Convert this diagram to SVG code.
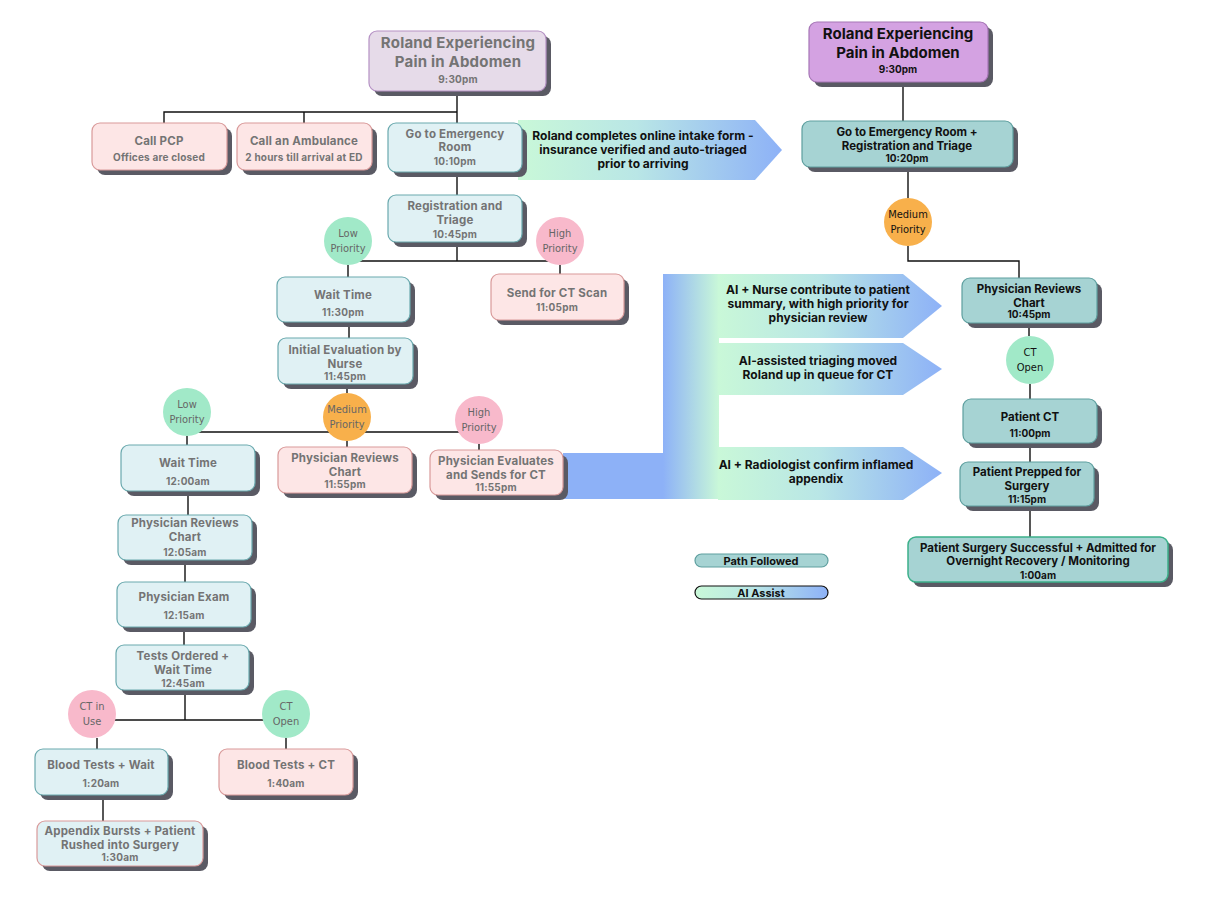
<svg xmlns="http://www.w3.org/2000/svg" width="1218" height="912" viewBox="0 0 1218 912">
<defs>
<linearGradient id="gR" x1="0" y1="0" x2="1" y2="0"><stop offset="0" stop-color="#c9f8d8"/><stop offset="0.45" stop-color="#b9e6e6"/><stop offset="1" stop-color="#8db1f7"/></linearGradient>
<linearGradient id="gL" x1="0" y1="0" x2="1" y2="0"><stop offset="0" stop-color="#8db1f7"/><stop offset="1" stop-color="#c9f8d8"/></linearGradient>
<style>
.sh{fill:#5a5a64}
.b{fill:#e0f1f4;stroke:#6aa9ae;stroke-width:1.2}
.p{fill:#fde6e6;stroke:#d99a9a;stroke-width:1.2}
.bp{fill:#e0f1f4;stroke:#d99a9a;stroke-width:1.2}
.pu{fill:#e6dbe9;stroke:#b591c4;stroke-width:1.2}
.pu2{fill:#d4a2e2;stroke:#a676b6;stroke-width:1.2}
.t{fill:#a6d3d3;stroke:#5e9f9f;stroke-width:1.2}
.tg{fill:#a6d3d3;stroke:#3cb08a;stroke-width:1.5}
text{font-family:Inter,"Liberation Sans",sans-serif;font-weight:700;text-anchor:middle}
.g{fill:#747474;letter-spacing:0.2px}
.k{fill:#111}
.f12{font-size:11.5px}
.fb{font-size:12px}
.f10{font-size:10px}
.f15{font-size:15px}
.c{font-family:"Liberation Sans Narrow","DejaVu Sans Condensed","Roboto",sans-serif;font-weight:400;font-size:11px;letter-spacing:0}
.cg{fill:#a1e9c8}.cp{fill:#f8b9cb}.co{fill:#f8b04b}
.cgt{fill:#666}
.ln{fill:none;stroke:#111;stroke-width:1.4}
</style>
</defs>
<rect width="1218" height="912" fill="#fff"/>

<g id="connectors">
<path class="ln" d="M457,91 V123 M164,123 V112 H457 M304,112 V123 M457,172 V195 M457,242 V261 M348,261 H560 M348,265 V277 M560,265 V274 M349,322 V338 M347,384 V393 M187,432 H479 M187,436 V445 M347,441 V447 M479,444 V450 M188,491 V515 M185,560 V582 M184,627 V645 M185,690 V720 M92,720 H286 M97,738 V749 M286,738 V749 M103,795 V821"/>
<path class="ln" d="M903,82 V121 M908,167 V198 M908,246 V261 H1019 V278 M1029,323 V336 M1030,384 V399 M1030,443 V462 M1030,506 V537"/>
</g>

<g id="ai-banners">
<polygon points="518,120 755,120 782,150 755,180 518,180" fill="url(#gR)"/>
<text class="k fb" x="643" y="140">Roland completes online intake form -</text>
<text class="k fb" x="643" y="154">insurance verified and auto-triaged</text>
<text class="k fb" x="643" y="168">prior to arriving</text>
<rect x="563" y="453" width="102" height="46" fill="#8db1f7"/>
<rect x="663" y="274" width="56" height="225" fill="url(#gL)"/>
<polygon points="718,274 903,274 942,306 903,338 718,338" fill="url(#gR)"/>
<polygon points="718,343 903,343 942,369 903,395 718,395" fill="url(#gR)"/>
<polygon points="718,447 903,447 942,473 903,500 718,500" fill="url(#gR)"/>
<text class="k fb" x="818" y="294">AI + Nurse contribute to patient</text>
<text class="k fb" x="818" y="308">summary, with high priority for</text>
<text class="k fb" x="818" y="322">physician review</text>
<text class="k fb" x="818" y="365">AI-assisted triaging moved</text>
<text class="k fb" x="818" y="379">Roland up in queue for CT</text>
<text class="k fb" x="816" y="469">AI + Radiologist confirm inflamed</text>
<text class="k fb" x="816" y="483">appendix</text>
</g>

<g id="n-title-left"><rect class="sh" x="374" y="36" width="177" height="60" rx="8"/><rect class="pu" x="369" y="31" width="177" height="60" rx="8"/>
<text class="g f15" x="458" y="48">Roland Experiencing</text><text class="g f15" x="458" y="67">Pain in Abdomen</text><text class="g f10" x="458" y="83">9:30pm</text></g>

<g id="n-call-pcp"><rect class="sh" x="97" y="128" width="135" height="47" rx="8"/><rect class="p" x="92" y="123" width="135" height="47" rx="8"/>
<text class="g f12" x="159" y="145">Call PCP</text><text class="g f10" x="159" y="161">Offices are closed</text></g>

<g id="n-ambulance"><rect class="sh" x="242" y="128" width="135" height="47" rx="8"/><rect class="p" x="237" y="123" width="135" height="47" rx="8"/>
<text class="g f12" x="304" y="145">Call an Ambulance</text><text class="g f10" x="304" y="161">2 hours till arrival at ED</text></g>

<g id="n-er"><rect class="sh" x="393" y="128" width="134" height="49" rx="8"/><rect class="b" x="388" y="123" width="134" height="49" rx="8"/>
<text class="g f12" x="455" y="138">Go to Emergency</text><text class="g f12" x="455" y="151">Room</text><text class="g f10" x="455" y="165">10:10pm</text></g>

<g id="n-registration"><rect class="sh" x="393" y="200" width="134" height="47" rx="8"/><rect class="b" x="388" y="195" width="134" height="47" rx="8"/>
<text class="g f12" x="455" y="210">Registration and</text><text class="g f12" x="455" y="224">Triage</text><text class="g f10" x="455" y="238">10:45pm</text></g>

<g id="c-low1"><circle class="cg" cx="348" cy="241" r="24"/><text class="c cgt" x="348" y="237">Low</text><text class="c cgt" x="348" y="252">Priority</text></g>
<g id="c-high1"><circle class="cp" cx="560" cy="241" r="24"/><text class="c cgt" x="560" y="237">High</text><text class="c cgt" x="560" y="252">Priority</text></g>

<g id="n-wait1"><rect class="sh" x="282" y="282" width="133" height="45" rx="8"/><rect class="b" x="277" y="277" width="133" height="45" rx="8"/>
<text class="g f12" x="343" y="299">Wait Time</text><text class="g f10" x="343" y="316">11:30pm</text></g>

<g id="n-sendct"><rect class="sh" x="496" y="279" width="133" height="46" rx="8"/><rect class="p" x="491" y="274" width="133" height="46" rx="8"/>
<text class="g f12" x="557" y="297">Send for CT Scan</text><text class="g f10" x="557" y="311">11:05pm</text></g>

<g id="n-initial"><rect class="sh" x="283" y="343" width="135" height="46" rx="8"/><rect class="b" x="278" y="338" width="135" height="46" rx="8"/>
<text class="g f12" x="345" y="354">Initial Evaluation by</text><text class="g f12" x="345" y="368">Nurse</text><text class="g f10" x="345" y="380">11:45pm</text></g>

<g id="c-low2"><circle class="cg" cx="187" cy="412" r="24"/><text class="c cgt" x="187" y="408">Low</text><text class="c cgt" x="187" y="423">Priority</text></g>
<g id="c-med2"><circle class="co" cx="347" cy="417" r="24"/><text class="c cgt" x="347" y="413">Medium</text><text class="c cgt" x="347" y="428">Priority</text></g>
<g id="c-high2"><circle class="cp" cx="479" cy="420" r="24"/><text class="c cgt" x="479" y="416">High</text><text class="c cgt" x="479" y="431">Priority</text></g>

<g id="n-wait2"><rect class="sh" x="126" y="450" width="134" height="46" rx="8"/><rect class="b" x="121" y="445" width="134" height="46" rx="8"/>
<text class="g f12" x="188" y="467">Wait Time</text><text class="g f10" x="188" y="485">12:00am</text></g>

<g id="n-reviews-pink"><rect class="sh" x="283" y="452" width="134" height="46" rx="8"/><rect class="p" x="278" y="447" width="134" height="46" rx="8"/>
<text class="g f12" x="345" y="462">Physician Reviews</text><text class="g f12" x="345" y="476">Chart</text><text class="g f10" x="345" y="488">11:55pm</text></g>

<g id="n-evaluates"><rect class="sh" x="435" y="455" width="133" height="45" rx="8"/><rect class="p" x="430" y="450" width="133" height="45" rx="8"/>
<text class="g f12" x="496" y="465">Physician Evaluates</text><text class="g f12" x="496" y="479">and Sends for CT</text><text class="g f10" x="496" y="491">11:55pm</text></g>

<g id="n-reviews2"><rect class="sh" x="123" y="520" width="134" height="45" rx="8"/><rect class="b" x="118" y="515" width="134" height="45" rx="8"/>
<text class="g f12" x="185" y="527">Physician Reviews</text><text class="g f12" x="185" y="541">Chart</text><text class="g f10" x="185" y="556">12:05am</text></g>

<g id="n-exam"><rect class="sh" x="122" y="587" width="134" height="45" rx="8"/><rect class="b" x="117" y="582" width="134" height="45" rx="8"/>
<text class="g f12" x="184" y="601">Physician Exam</text><text class="g f10" x="184" y="619">12:15am</text></g>

<g id="n-tests"><rect class="sh" x="121" y="650" width="133" height="45" rx="8"/><rect class="b" x="116" y="645" width="133" height="45" rx="8"/>
<text class="g f12" x="183" y="660">Tests Ordered +</text><text class="g f12" x="183" y="674">Wait Time</text><text class="g f10" x="183" y="687">12:45am</text></g>

<g id="c-ctuse"><circle class="cp" cx="92" cy="714" r="24"/><text class="c cgt" x="92" y="710">CT in</text><text class="c cgt" x="92" y="725">Use</text></g>
<g id="c-ctopen"><circle class="cg" cx="286" cy="714" r="24"/><text class="c cgt" x="286" y="710">CT</text><text class="c cgt" x="286" y="725">Open</text></g>

<g id="n-bloodwait"><rect class="sh" x="40" y="754" width="133" height="46" rx="8"/><rect class="b" x="35" y="749" width="133" height="46" rx="8"/>
<text class="g f12" x="101" y="769">Blood Tests + Wait</text><text class="g f10" x="101" y="787">1:20am</text></g>

<g id="n-bloodct"><rect class="sh" x="224" y="754" width="134" height="46" rx="8"/><rect class="p" x="219" y="749" width="134" height="46" rx="8"/>
<text class="g f12" x="286" y="769">Blood Tests + CT</text><text class="g f10" x="286" y="787">1:40am</text></g>

<g id="n-appendix"><rect class="sh" x="42" y="826" width="166" height="45" rx="8"/><rect class="bp" x="37" y="821" width="166" height="45" rx="8"/>
<text class="g f12" x="120" y="835">Appendix Bursts + Patient</text><text class="g f12" x="120" y="849">Rushed into Surgery</text><text class="g f10" x="120" y="861">1:30am</text></g>

<g id="n-title-right"><rect class="sh" x="814" y="27" width="179" height="60" rx="8"/><rect class="pu2" x="809" y="22" width="179" height="60" rx="8"/>
<text class="k f15" x="898" y="39">Roland Experiencing</text><text class="k f15" x="898" y="58">Pain in Abdomen</text><text class="k f10" x="898" y="73">9:30pm</text></g>

<g id="n-r-er"><rect class="sh" x="807" y="126" width="211" height="46" rx="8"/><rect class="t" x="802" y="121" width="211" height="46" rx="8"/>
<text class="k f12" x="907" y="136">Go to Emergency Room +</text><text class="k f12" x="907" y="150">Registration and Triage</text><text class="k f10" x="907" y="162">10:20pm</text></g>

<g id="c-r-med"><circle class="co" cx="908" cy="222" r="24"/><text class="c k" x="908" y="218">Medium</text><text class="c k" x="908" y="233">Priority</text></g>

<g id="n-r-reviews"><rect class="sh" x="967" y="283" width="135" height="45" rx="8"/><rect class="t" x="962" y="278" width="135" height="45" rx="8"/>
<text class="k f12" x="1029" y="293">Physician Reviews</text><text class="k f12" x="1029" y="307">Chart</text><text class="k f10" x="1029" y="318">10:45pm</text></g>

<g id="c-r-ctopen"><circle class="cg" cx="1030" cy="360" r="24"/><text class="c k" x="1030" y="356">CT</text><text class="c k" x="1030" y="371">Open</text></g>

<g id="n-r-ct"><rect class="sh" x="968" y="404" width="134" height="44" rx="8"/><rect class="t" x="963" y="399" width="134" height="44" rx="8"/>
<text class="k f12" x="1030" y="421">Patient CT</text><text class="k f10" x="1030" y="437">11:00pm</text></g>

<g id="n-r-prepped"><rect class="sh" x="965" y="467" width="134" height="44" rx="8"/><rect class="t" x="960" y="462" width="134" height="44" rx="8"/>
<text class="k f12" x="1027" y="476">Patient Prepped for</text><text class="k f12" x="1027" y="490">Surgery</text><text class="k f10" x="1027" y="503">11:15pm</text></g>

<g id="n-r-surgery"><rect class="sh" x="913" y="542" width="260" height="45" rx="8"/><rect class="tg" x="908" y="537" width="260" height="45" rx="8"/>
<text class="k f12" x="1038" y="552">Patient Surgery Successful + Admitted for</text><text class="k f12" x="1038" y="565">Overnight Recovery / Monitoring</text><text class="k f10" x="1038" y="579">1:00am</text></g>

<g id="legend">
<rect x="695" y="554" width="133" height="13" rx="6.5" fill="#a6d3d3" stroke="#5e9f9f" stroke-width="1.2"/>
<text class="k" x="761" y="565" style="font-size:11px">Path Followed</text>
<rect x="695" y="586" width="133" height="13" rx="6.5" fill="url(#gR)" stroke="#111" stroke-width="1.2"/>
<text class="k" x="761" y="597" style="font-size:11px">AI Assist</text>
</g>
</svg>
